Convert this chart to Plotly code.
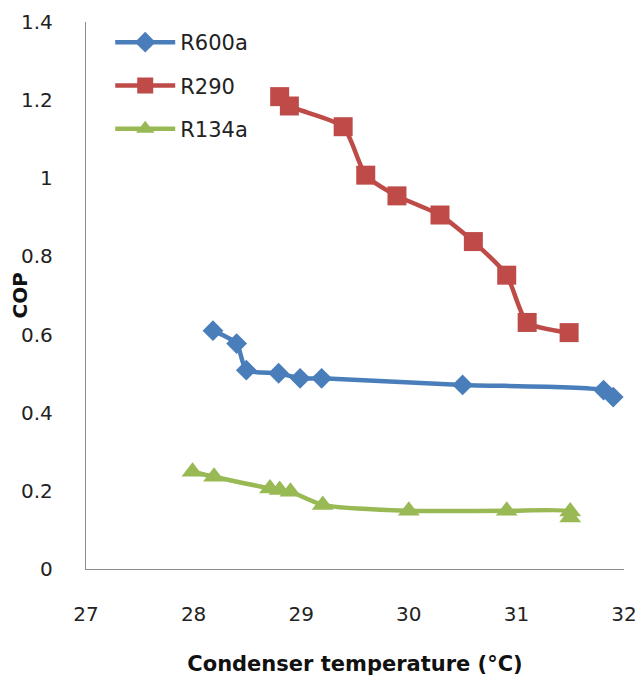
import plotly.graph_objects as go

# Condenser temperature (°C) and COP for each refrigerant
r600a_temp = [28.18, 28.40, 28.49, 28.79, 28.99, 29.19, 30.50, 31.81, 31.90]
r600a_cop = [0.610, 0.577, 0.509, 0.501, 0.488, 0.488, 0.471, 0.458, 0.440]

r290_temp = [28.80, 28.89, 29.39, 29.60, 29.89, 30.29, 30.60, 30.91, 31.10, 31.49]
r290_cop = [1.209, 1.185, 1.132, 1.008, 0.955, 0.906, 0.838, 0.752, 0.631, 0.605]

r134a_temp = [27.99, 28.19, 28.71, 28.80, 28.90, 29.20, 30.00, 30.91, 31.50, 31.50]
r134a_cop = [0.249, 0.236, 0.206, 0.202, 0.198, 0.164, 0.149, 0.149, 0.147, 0.132]

x_ticks = [27, 28, 29, 30, 31, 32]
y_ticks = [0, 0.2, 0.4, 0.6, 0.8, 1, 1.2, 1.4]
y_tick_text = ["0", "0.2", "0.4", "0.6", "0.8", "1", "1.2", "1.4"]

series = [
    ("R600a", r600a_temp, r600a_cop, "#4A7EBB", "diamond", 16),
    ("R290", r290_temp, r290_cop, "#BE4B48", "square", 19),
    ("R134a", r134a_temp, r134a_cop, "#98B954", "triangle-up", 19),
]

fig = go.Figure()
for name, xs, ys, color, symbol, size in series:
    fig.add_trace(go.Scatter(
        x=xs, y=ys, name=name, legendgroup=name, mode="lines+markers",
        line=dict(color=color, width=4.5, shape="spline", smoothing=0.6),
        marker=dict(symbol=symbol, size=size, color=color),
    ))

axis_font = dict(family="DejaVu Sans", size=20, color="#222222")

fig.update_layout(
    width=643, height=680,
    margin=dict(l=86, r=19, t=22, b=111),
    plot_bgcolor="white", paper_bgcolor="white",
    showlegend=True,
    legend=dict(
        x=0.045, y=1.0, xanchor="left", yanchor="top",
        font=dict(family="DejaVu Sans", size=21, color="#222222"),
        bgcolor="rgba(0,0,0,0)", itemwidth=60, tracegroupgap=13,
    ),
    xaxis=dict(
        range=[27, 32], tickvals=x_ticks, showgrid=False, zeroline=False,
        showline=True, linecolor="#8c8c8c", linewidth=1.3, automargin=False,
        ticks="", ticklabelstandoff=27, tickfont=axis_font,
        title=dict(text="<b>Condenser temperature (°C)</b>",
                   font=dict(family="DejaVu Sans", size=21, color="#111111"),
                   standoff=31),
    ),
    yaxis=dict(
        range=[0, 1.4], tickvals=y_ticks, ticktext=y_tick_text,
        showgrid=False, zeroline=False, automargin=False,
        showline=True, linecolor="#8c8c8c", linewidth=1.3,
        ticks="", ticklabelstandoff=28, tickfont=axis_font,
    ),
    # y-axis title sits close to the tick labels, so it is placed as an annotation
    annotations=[dict(
        text="<b>COP</b>", textangle=-90, showarrow=False,
        xref="paper", yref="paper", x=-0.1245, y=0.5,
        xanchor="center", yanchor="middle",
        font=dict(family="DejaVu Sans", size=20, color="#111111"),
    )],
)

fig.write_html("out.html")
